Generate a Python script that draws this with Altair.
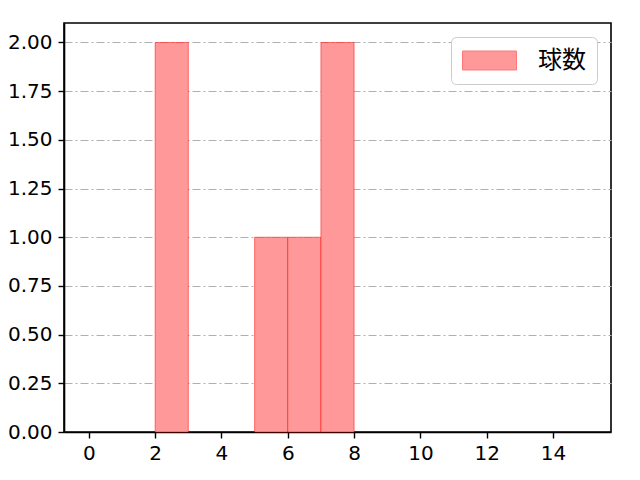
import altair as alt
import pandas as pd

bin_start = [2, 5, 6, 7]
bin_end = [3, 6, 7, 8]
counts = [2, 1, 1, 2]
series_name = "球数"

df = pd.DataFrame({"x": bin_start, "x2": bin_end, "y": counts, "s": [series_name] * len(counts)})

TICK_FONT = "DejaVu Sans"
CJK_FONT = "Noto Sans CJK JP"
RECT = "M-1,-0.79L3.5,-0.79L3.5,0.79L-1,0.79Z"

bars = alt.Chart(df).mark_rect(
    stroke="#ff0000", strokeOpacity=0.5, strokeWidth=1, opacity=1
).encode(
    x=alt.X("x:Q", scale=alt.Scale(domain=[-0.75, 15.75], nice=False, zero=False),
            axis=alt.Axis(values=[0, 2, 4, 6, 8, 10, 12, 14], format="d", grid=False,
                          title=None, tickSize=6, labelPadding=5)),
    x2="x2:Q",
    y=alt.Y("y:Q", scale=alt.Scale(domain=[0, 2.1], nice=False),
            axis=alt.Axis(values=[0, 0.25, 0.5, 0.75, 1.0, 1.25, 1.5, 1.75, 2.0], format=".2f",
                          grid=True, gridColor="#b0b0b0", gridDash=[8, 3, 2, 3], gridWidth=1,
                          title=None, tickSize=6, labelPadding=6)),
    y2=alt.datum(0),
    color=alt.Color("s:N", scale=alt.Scale(range=["#ff9999"]),
                    legend=alt.Legend(title=None, orient="top-right", symbolType=RECT,
                                      symbolSize=576, symbolStrokeColor="#ff7777",
                                      symbolStrokeWidth=1, symbolOpacity=1,
                                      labelFontSize=24, labelFont=CJK_FONT, labelColor="#000000",
                                      strokeColor="#cccccc", cornerRadius=5, padding=11,
                                      fillColor="white", offset=14, labelOffset=51)),
)

chart = bars.properties(
    width=547, height=409,
    padding={"left": 56, "top": 15, "right": 15, "bottom": 40},
    autosize=alt.AutoSizeParams(type="none"),
).configure_view(
    stroke="#000000", strokeWidth=1.6
).configure_axis(
    labelFont=TICK_FONT, labelFontSize=20, labelColor="#000000", domainColor="#000000",
    tickColor="#000000", domainWidth=1.6, tickWidth=1.4
)

chart.save("out.html", embed_options={"renderer": "svg", "actions": False})
